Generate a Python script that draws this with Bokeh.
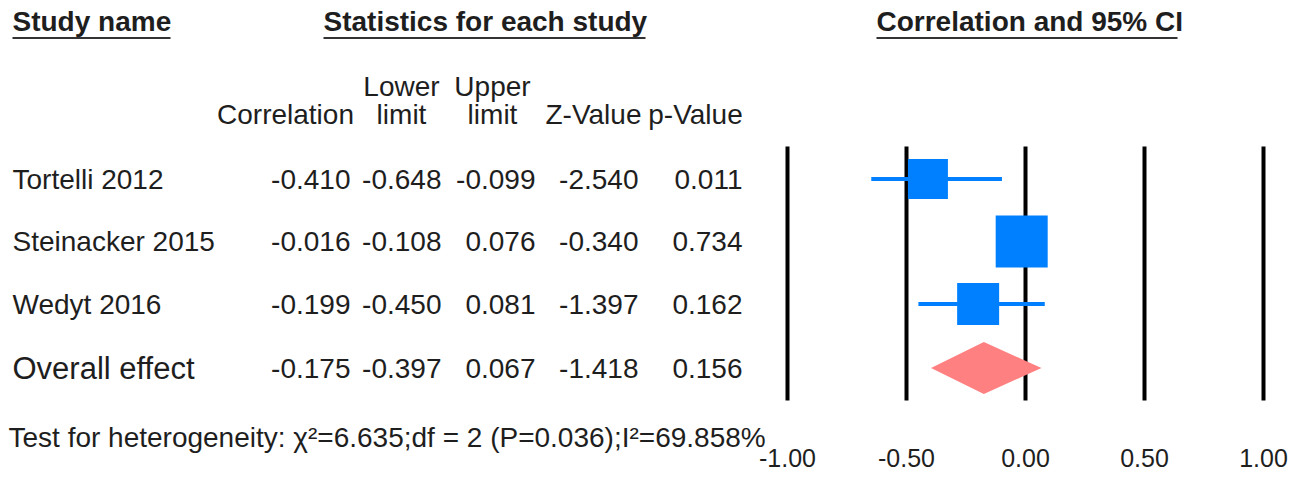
from bokeh.plotting import figure
from bokeh.models import Range1d, ColumnDataSource
from bokeh.core.properties import value
from bokeh.embed import file_html
from bokeh.resources import INLINE

# ---------------- data ----------------
studies = ["Tortelli 2012", "Steinacker 2015", "Wedyt 2016"]
corr = [-0.410, -0.016, -0.199]
lower = [-0.648, -0.108, -0.450]
upper = [-0.099, 0.076, 0.081]
zval = [-2.540, -0.340, -1.397]
pval = [0.011, 0.734, 0.162]

overall_label = "Overall effect"
overall_corr = -0.175
overall_lower = -0.397
overall_upper = 0.067
overall_z = -1.418
overall_p = 0.156

ticks = [-1.0, -0.5, 0.0, 0.5, 1.0]
heterogeneity = "Test for heterogeneity: \u03c7\u00b2=6.635;df = 2 (P=0.036);I\u00b2=69.858%"

# ---------------- layout / style ----------------
W, H = 1291, 474
FONT = value("Liberation Sans")
TXT = "#1e1e1e"
BLUE = "#0080FF"
PINK = "#FF8080"

# pixel anchors for the correlation scale (frame px of -1 and +1)
px_m1, px_p1 = 787, 1263
ppu = (px_p1 - px_m1) / 2.0
corr_start = -1 - px_m1 / ppu
corr_end = 1 + (W - px_p1) / ppu

row_y = [178.5, 241, 303.5]   # centres of study rows (frame px from top)
overall_y = 367.5
box_px = [40, 52, 42]         # marker sizes (screen px)

p = figure(width=W, height=H, output_backend="svg", toolbar_location=None,
           x_axis_type=None, y_axis_type=None,
           x_range=Range1d(0, W), y_range=Range1d(H, 0),
           min_border=0, outline_line_color=None, background_fill_color="white",
           border_fill_color="white")
p.extra_x_ranges = {"corr": Range1d(corr_start, corr_end)}
p.grid.visible = False


def txt(x, y, t, align="left", size="28px", style="normal", xr="default"):
    p.text(x=x, y=y, text=t, text_align=align, text_baseline="middle",
           text_font=FONT, text_font_size=size, text_font_style=style,
           text_color=TXT, x_range_name=xr)


# headers
txt([12, 323, 876], [21, 21, 21],
    ["Study name", "Statistics for each study", "Correlation and 95% CI"],
    style="bold")
p.segment(x0=[12, 323, 876], x1=[170, 645, 1177], y0=[37.5] * 3, y1=[37.5] * 3,
          line_color="#333333", line_width=2)

col_center = [285, 401, 492, 593, 695]
col_right = [350, 441, 535, 638, 742]
txt(col_center[1:3], [86, 86], ["Lower", "Upper"], align="center")
txt(col_center, [114] * 5, ["Correlation", "limit", "limit", "Z-Value", "p-Value"],
    align="center")

# study rows
txt([12] * 3, row_y, studies)
for j, col in enumerate([corr, lower, upper, zval, pval]):
    txt([col_right[j]] * 3, row_y, [f"{v:.3f}" for v in col], align="right")

# overall row
txt([12], [overall_y], [overall_label], size="31px")
ov_vals = [overall_corr, overall_lower, overall_upper, overall_z, overall_p]
txt(col_right, [overall_y] * 5, [f"{v:.3f}" for v in ov_vals], align="right")

# heterogeneity
txt([8], [437], [heterogeneity], size="28px")

# reference lines at ticks
p.segment(x0=ticks, x1=ticks, y0=[146] * len(ticks), y1=[400] * len(ticks),
          line_color="black", line_width=4, x_range_name="corr")

# tick labels
txt(ticks, [457] * len(ticks), [f"{t:.2f}" for t in ticks], align="center",
    size="25px", xr="corr")

# confidence intervals and boxes
src = ColumnDataSource(dict(y=row_y, corr=corr, lower=lower, upper=upper, size=box_px))
p.segment(x0="lower", x1="upper", y0="y", y1="y", source=src,
          line_color=BLUE, line_width=4, x_range_name="corr")
p.rect(x="corr", y="y", width="size", height="size", width_units="screen",
       height_units="screen", source=src, fill_color=BLUE, line_color=None,
       x_range_name="corr")

# overall diamond
half_h = 26
p.patch(x=[overall_lower, overall_corr, overall_upper, overall_corr],
        y=[overall_y, overall_y - half_h, overall_y, overall_y + half_h],
        fill_color=PINK, line_color=None, x_range_name="corr")

open("out.html", "w").write(file_html(p, INLINE))
